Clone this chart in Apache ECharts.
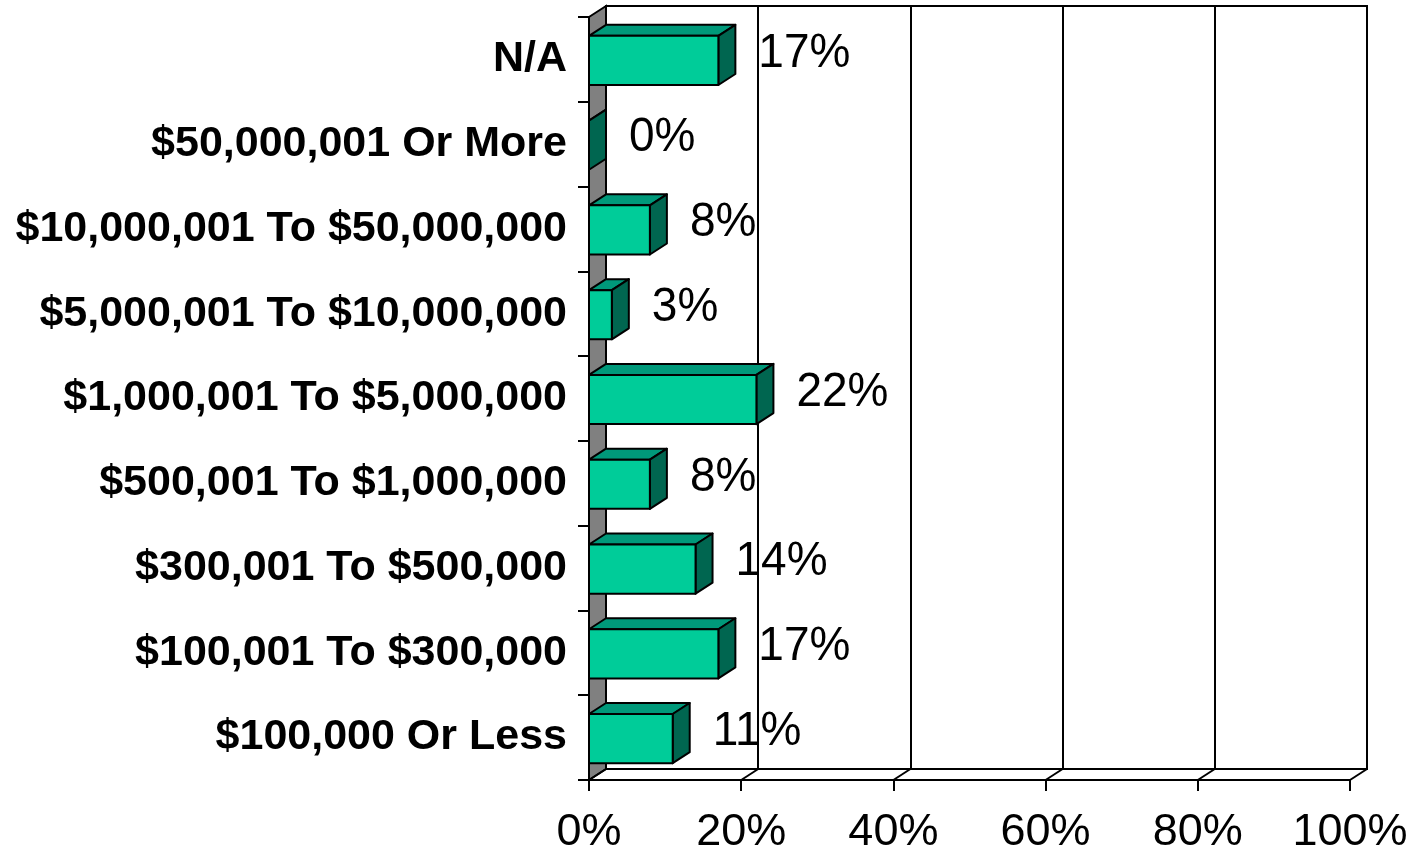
<!DOCTYPE html>
<html>
<head>
<meta charset="utf-8">
<script src="https://cdn.jsdelivr.net/npm/echarts@6/dist/echarts.min.js"></script>
<style>
  html, body { margin: 0; padding: 0; background: #fff; }
  #chart { width: 1414px; height: 852px; }
</style>
</head>
<body>
<div id="chart"></div>
<script>
// categories bottom -> top
var categories = ['$100,000 Or Less', '$100,001 To $300,000', '$300,001 To $500,000',
    '$500,001 To $1,000,000', '$1,000,001 To $5,000,000', '$5,000,001 To $10,000,000',
    '$10,000,001 To $50,000,000', '$50,000,001 Or More', 'N/A'];
var values = [11, 17, 14, 8, 22, 3, 8, 0, 17];
var xTicks = [0, 20, 40, 60, 80, 100];

var DX = 17, DY = -11;   // depth offset of the 3d box
var font = 'Liberation Sans, Arial, sans-serif';

var chart = echarts.init(document.getElementById('chart'));

function renderBar(params, api) {
    var v = api.value(0), cat = api.value(1);
    var base = api.coord([0, cat]);
    var end = api.coord([v, cat]);
    var band = api.size([0, 1])[1];
    var h = band * 0.58;
    var cy = base[1] + 1;
    var x0 = base[0], x1 = end[0], y0 = cy - h / 2, y1 = cy + h / 2;
    var line = { stroke: '#000', lineWidth: 2, lineJoin: 'round' };
    return {
        type: 'group',
        children: [{
            type: 'polygon',
            shape: { points: [[x0, y0], [x0 + DX, y0 + DY], [x1 + DX, y0 + DY], [x1, y0]] },
            style: echarts.util.extend({ fill: '#00997a' }, line)
        }, {
            type: 'polygon',
            shape: { points: [[x1, y0], [x1 + DX, y0 + DY], [x1 + DX, y1 + DY], [x1, y1]] },
            style: echarts.util.extend({ fill: '#006650' }, line)
        }, {
            type: 'rect',
            shape: { x: x0, y: y0, width: x1 - x0, height: y1 - y0 },
            style: echarts.util.extend({ fill: '#00cc99' }, line)
        }, {
            type: 'text',
            x: x1 + DX + 23,
            y: cy - 7,
            scaleY: 1.05,
            style: {
                x: 0, y: 0,
                text: v + '%',
                fill: '#000',
                font: '46px ' + font,
                verticalAlign: 'middle',
                align: 'left'
            }
        }]
    };
}

function renderFrame(params, api) {
    var cs = params.coordSys;
    var bottom = cs.y + cs.height;
    var p = api.coord([api.value(0), 0]);
    var children = [{
        type: 'line',
        shape: { x1: p[0], y1: bottom, x2: p[0] + DX, y2: bottom + DY },
        style: { stroke: '#000', lineWidth: 2 }
    }];
    if (params.dataIndex === 0) {
        children.unshift({
            type: 'polygon',
            shape: { points: [[cs.x, cs.y], [cs.x + DX, cs.y + DY], [cs.x + DX, bottom + DY], [cs.x, bottom]] },
            style: { fill: '#808080', stroke: '#000', lineWidth: 2 }
        });
    }
    return { type: 'group', children: children };
}

var option = {
    backgroundColor: '#fff',
    animation: false,
    grid: [
        { left: 589, right: 64, top: 17, bottom: 72, outerBoundsMode: 'none', containLabel: false },
        { left: 606, right: 47, top: 6, bottom: 83, outerBoundsMode: 'none', containLabel: false,
          show: true, backgroundColor: '#fff', borderColor: '#000', borderWidth: 2 }
    ],
    xAxis: [{
        type: 'value', gridIndex: 0, min: 0, max: 100, interval: 20,
        axisLine: { show: true, lineStyle: { color: '#000', width: 2 } },
        axisTick: { show: true, length: 11, lineStyle: { color: '#000', width: 2 } },
        splitLine: { show: false },
        axisLabel: { formatter: '{value}%', color: '#000', fontSize: 45, fontFamily: font, margin: 30 }
    }, {
        type: 'value', gridIndex: 1, min: 0, max: 100, interval: 20,
        axisLine: { show: false }, axisTick: { show: false }, axisLabel: { show: false },
        splitLine: { show: true, lineStyle: { color: '#000', width: 2 } }
    }],
    yAxis: [{
        type: 'category', gridIndex: 0, data: categories,
        axisLine: { show: true, lineStyle: { color: '#000', width: 2 } },
        axisTick: { show: true, length: 11, lineStyle: { color: '#000', width: 2 } },
        axisLabel: { color: '#000', fontSize: 43, fontWeight: 'bold', fontFamily: font, margin: 22, padding: [5, 0, 0, 0] }
    }, {
        type: 'category', gridIndex: 1, data: categories, show: false
    }],
    series: [{
        type: 'custom', name: 'frame', xAxisIndex: 0, yAxisIndex: 0, z: 1,
        renderItem: renderFrame,
        data: xTicks.map(function (t) { return [t]; }),
        encode: { x: 0 },
        silent: true
    }, {
        type: 'custom', name: 'bars', xAxisIndex: 0, yAxisIndex: 0, z: 3,
        renderItem: renderBar,
        data: values.map(function (v, i) { return [v, i]; }),
        encode: { x: 0, y: 1 }
    }]
};

chart.setOption(option);
</script>
</body>
</html>
